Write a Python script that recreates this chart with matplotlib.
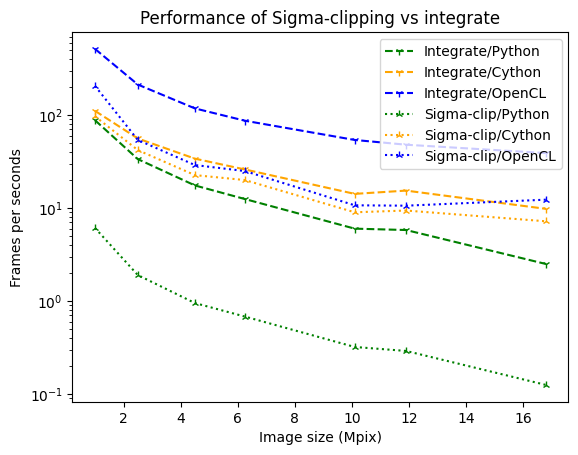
import matplotlib
matplotlib.use("Agg")
import matplotlib.pyplot as plt

# image sizes (Mpix)
sizes = [1.0, 2.5, 4.5, 6.25, 10.1, 11.9, 16.8]

# frames per second
integrate_python = [88, 33.6, 17.5, 12.5, 6.0, 5.8, 2.5]
integrate_cython = [111, 56, 34, 26, 14.2, 15.4, 9.8]
integrate_opencl = [515, 213, 118, 87, 54, 48, 39]
sigma_python = [6.1, 1.9, 0.95, 0.68, 0.32, 0.29, 0.125]
sigma_cython = [97, 42, 22.6, 20, 9.0, 9.4, 7.2]
sigma_opencl = [206, 54, 29, 25, 10.7, 10.6, 12.3]

fig, ax = plt.subplots(figsize=(6.4, 4.8))
ax.plot(sizes, integrate_python, "--", color="green", marker="1", label="Integrate/Python")
ax.plot(sizes, integrate_cython, "--", color="orange", marker="1", label="Integrate/Cython")
ax.plot(sizes, integrate_opencl, "--", color="blue", marker="1", label="Integrate/OpenCL")
ax.plot(sizes, sigma_python, ":", color="green", marker="2", label="Sigma-clip/Python")
ax.plot(sizes, sigma_cython, ":", color="orange", marker="2", label="Sigma-clip/Cython")
ax.plot(sizes, sigma_opencl, ":", color="blue", marker="2", label="Sigma-clip/OpenCL")
ax.set_yscale("log")
ax.set_xlabel("Image size (Mpix)")
ax.set_ylabel("Frames per seconds")
ax.set_title("Performance of Sigma-clipping vs integrate")
ax.legend(loc="upper right")
fig.savefig("out.png", dpi=100, bbox_inches="tight")
